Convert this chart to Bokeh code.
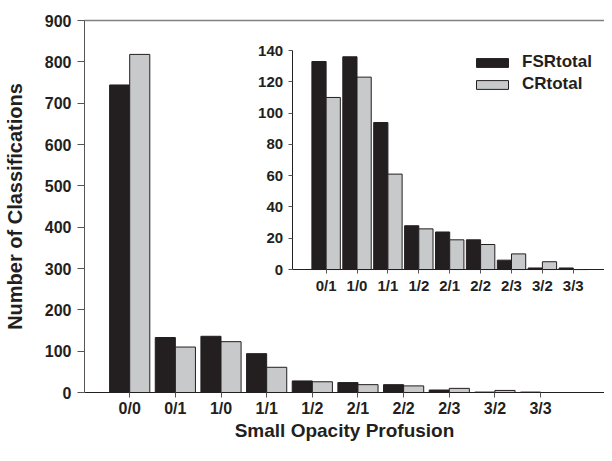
from bokeh.plotting import figure
from bokeh.models import LinearAxis, FixedTicker, Legend, LegendItem, Range1d, ColumnDataSource
from bokeh.embed import file_html
from bokeh.resources import INLINE
from bokeh.transform import dodge

# ---- data ----
categories = ["0/0", "0/1", "1/0", "1/1", "1/2", "2/1", "2/2", "2/3", "3/2", "3/3"]
fsr_total = [744, 133, 136, 94, 28, 24, 19, 6, 1, 1]
cr_total = [818, 110, 123, 61, 26, 19, 16, 10, 5, 0]

inset_categories = categories[1:]
inset_fsr = fsr_total[1:]
inset_cr = cr_total[1:]

main_yticks = list(range(0, 1000, 100))
inset_yticks = list(range(0, 160, 20))

FONT = "Liberation Sans"
DARK = "#231f20"
LIGHT = "#c8c9cb"
AXIS = "#555555"

# ---- main chart ----
src = ColumnDataSource(dict(x=list(range(len(categories))), fsr=fsr_total, cr=cr_total))

p = figure(width=604, height=445, output_backend="svg", toolbar_location=None,
           x_range=Range1d(-0.99, 10.40), y_range=Range1d(0, 900),
           min_border_left=84, min_border_right=0, min_border_top=20, min_border_bottom=53)
p.outline_line_color = None
p.grid.visible = False
p.background_fill_color = "white"

p.vbar(x=dodge("x", -0.22), top="fsr", width=0.44, source=src,
       fill_color=DARK, line_color=DARK, line_width=1)
p.vbar(x=dodge("x", 0.22), top="cr", width=0.44, source=src,
       fill_color=LIGHT, line_color=DARK, line_width=1)

xa = p.xaxis[0]
xa.ticker = FixedTicker(ticks=list(range(len(categories))))
xa.major_label_overrides = {i: c for i, c in enumerate(categories)}
xa.minor_tick_line_color = None
xa.major_tick_in = 0
xa.major_tick_out = 5
xa.major_label_standoff = 2
xa.axis_line_color = DARK
xa.major_tick_line_color = AXIS
xa.major_label_text_font = FONT
xa.major_label_text_font_style = "bold"
xa.major_label_text_font_size = "16px"
xa.major_label_text_color = DARK
xa.axis_label = "Small Opacity Profusion"
xa.axis_label_text_font = FONT
xa.axis_label_text_font_style = "bold"
xa.axis_label_text_font_size = "19px"
xa.axis_label_text_color = DARK
xa.axis_label_standoff = 0

ya = p.yaxis[0]
ya.ticker = FixedTicker(ticks=main_yticks)
ya.minor_tick_line_color = None
ya.major_tick_in = 0
ya.major_tick_out = 7
ya.major_label_standoff = 6
ya.axis_line_color = AXIS
ya.major_tick_line_color = AXIS
ya.major_label_text_font = FONT
ya.major_label_text_font_style = "bold"
ya.major_label_text_font_size = "16px"
ya.major_label_text_color = DARK
ya.axis_label = "Number of Classifications"
ya.axis_label_text_font = FONT
ya.axis_label_text_font_style = "bold"
ya.axis_label_text_font_size = "20px"
ya.axis_label_text_color = DARK
ya.axis_label_standoff = 16

top_axis = LinearAxis(ticker=FixedTicker(ticks=[]), major_tick_line_color=None,
                      minor_tick_line_color=None, major_label_standoff=0,
                      major_tick_out=6, axis_line_color="#808080", axis_line_width=1.5)
p.add_layout(top_axis, "above")

# ---- inset (drawn on its own ranges inside the same frame) ----
p.extra_x_ranges = {"ix": Range1d(-7.82, 9.01)}
p.extra_y_ranges = {"iy": Range1d(-78.6, 159.2)}

isrc = ColumnDataSource(dict(x=list(range(len(inset_categories))), fsr=inset_fsr, cr=inset_cr))

r1 = p.vbar(x=dodge("x", -0.23), top="fsr", width=0.46, source=isrc,
            x_range_name="ix", y_range_name="iy",
            fill_color=DARK, line_color=DARK, line_width=1)
r2 = p.vbar(x=dodge("x", 0.23), top="cr", width=0.46, source=isrc,
            x_range_name="ix", y_range_name="iy",
            fill_color=LIGHT, line_color=DARK, line_width=1)

qx = LinearAxis(x_range_name="ix", y_range_name="iy", fixed_location=0,
                bounds=(-1.10, 9.01),
                ticker=FixedTicker(ticks=list(range(len(inset_categories)))),
                major_label_overrides={i: c for i, c in enumerate(inset_categories)})
qx.minor_tick_line_color = None
qx.major_tick_in = 0
qx.major_tick_out = 4
qx.major_label_standoff = 3
qx.axis_line_color = DARK
qx.major_tick_line_color = AXIS
qx.major_label_text_font = FONT
qx.major_label_text_font_style = "bold"
qx.major_label_text_font_size = "15px"
qx.major_label_text_color = DARK
p.add_layout(qx, "below")

qy = LinearAxis(x_range_name="ix", y_range_name="iy", fixed_location=-1.10,
                bounds=(0, 140), ticker=FixedTicker(ticks=inset_yticks))
qy.minor_tick_line_color = None
qy.major_tick_in = 0
qy.major_tick_out = 4
qy.major_label_standoff = 5
qy.axis_line_color = DARK
qy.major_tick_line_color = AXIS
qy.major_label_text_font = FONT
qy.major_label_text_font_style = "bold"
qy.major_label_text_font_size = "15px"
qy.major_label_text_color = DARK
p.add_layout(qy, "left")

legend = Legend(items=[LegendItem(label="FSRtotal", renderers=[r1]),
                       LegendItem(label="CRtotal", renderers=[r2])],
                location=(388, 298), margin=0, padding=0, spacing=2,
                glyph_width=40, glyph_height=11, label_height=20,
                label_standoff=10,
                label_text_font=FONT, label_text_font_style="bold",
                label_text_font_size="17px", label_text_color=DARK,
                border_line_color=None, background_fill_alpha=0)
p.add_layout(legend, "center")

open("out.html", "w").write(file_html(p, INLINE))
